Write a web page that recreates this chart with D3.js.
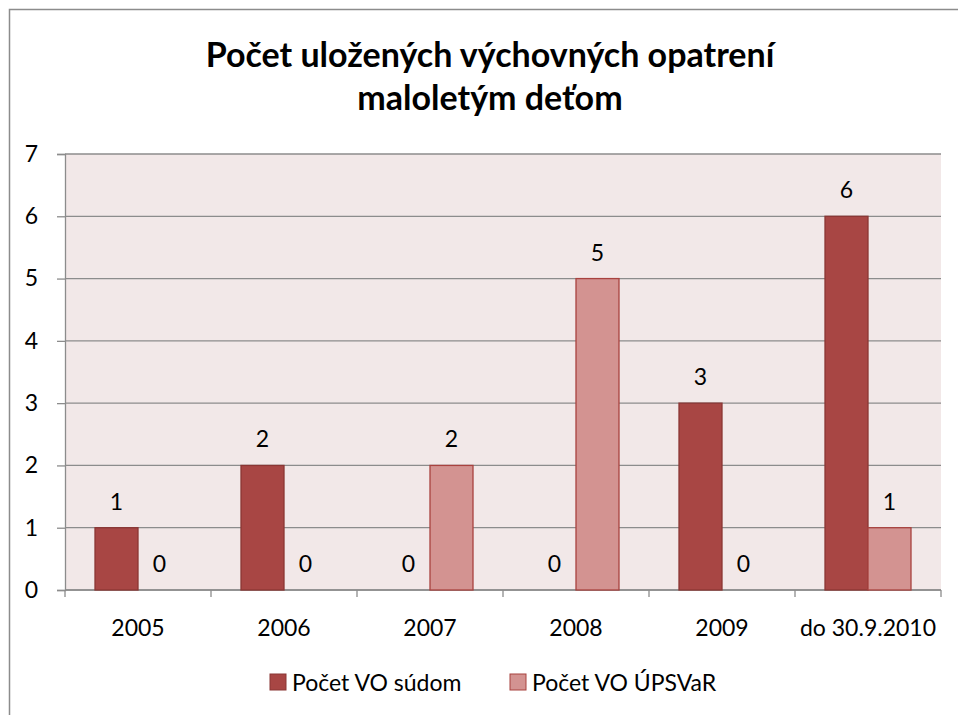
<!DOCTYPE html>
<html>
<head>
<meta charset="utf-8">
<script src="https://cdn.jsdelivr.net/npm/d3@7"></script>
<style>
body{margin:0;background:#fff}
text{font-family:Lato,"Open Sans",sans-serif;fill:#000}
</style>
</head>
<body>
<svg id="graph"></svg>
<script>
//data
var categories = ['2005','2006','2007','2008','2009','do 30.9.2010']
var seriesNames = ['Počet VO súdom','Počet VO ÚPSVaR']
var sudom = [1,2,0,0,3,6]
var upsvar = [0,0,2,5,0,1]
var yTicks = [0,1,2,3,4,5,6,7]
var colors = ['#A84644','#D39391']
var strokes = ['#8A3634','#A8423F']

var svg = d3.select('#graph')
	.attr('width',958)
	.attr('height',715)

//frame
svg.append('rect')
	.attr('x',9.5).attr('y',9.5)
	.attr('width',960).attr('height',720)
	.attr('fill','#fff')
	.attr('stroke','#8c8c8c')
	.attr('stroke-width',1.5)

var margin = {top:154,left:65,right:17,bottom:125}
var width = 958 - margin.left - margin.right
var height = 715 - margin.top - margin.bottom

var x0 = d3.scaleBand().domain(categories).range([0,width]).paddingInner(0.411).paddingOuter(0.2055)
var x1 = d3.scaleBand().domain([0,1]).range([0,x0.bandwidth()])
var y = d3.scaleLinear().domain([0,7]).range([height,0])

var g = svg.append('g')
	.attr('transform','translate('+margin.left+','+margin.top+')')

g.append('rect')
	.attr('width',width).attr('height',height)
	.attr('fill','#F2E8E8')

//gridlines
g.selectAll('.grid')
	.data(yTicks)
	.enter().append('line')
	.attr('x1',0).attr('x2',width)
	.attr('y1',function(d){return y(d)})
	.attr('y2',function(d){return y(d)})
	.attr('stroke','#8c8c8c').attr('stroke-width',1.3)

//y axis
var yaxis = g.append('g')
	.call(d3.axisLeft(y).tickValues(yTicks).tickSize(8).tickPadding(19).tickFormat(d3.format('d')))
yaxis.select('.domain').attr('stroke','#8c8c8c').attr('stroke-width',1.3)
yaxis.selectAll('line').attr('stroke','#8c8c8c').attr('stroke-width',1.3)
yaxis.selectAll('text').style('font-size','23px')

//x axis
var step = x0.step()
var xaxis = g.append('g').attr('transform','translate(0,'+height+')')
xaxis.append('line').attr('x1',0).attr('x2',width).attr('stroke','#8c8c8c').attr('stroke-width',1.3)
xaxis.selectAll('.tk')
	.data(d3.range(categories.length+1))
	.enter().append('line')
	.attr('x1',function(d){return d*step}).attr('x2',function(d){return d*step})
	.attr('y1',0).attr('y2',7)
	.attr('stroke','#8c8c8c').attr('stroke-width',1.3)
xaxis.selectAll('.lbl')
	.data(categories)
	.enter().append('text')
	.attr('x',function(d){return x0(d)+x0.bandwidth()/2})
	.attr('y',46)
	.attr('text-anchor','middle')
	.style('font-size','23px')
	.text(function(d){return d})

//bars
var series = [sudom,upsvar]
series.forEach(function(vals,s){
	var bars = g.selectAll('.bar'+s)
		.data(vals)
		.enter()
	bars.append('rect')
		.attr('x',function(d,i){return x0(categories[i])+x1(s)})
		.attr('width',x1.bandwidth())
		.attr('y',function(d){return y(d)})
		.attr('height',function(d){return height-y(d)})
		.attr('fill',colors[s])
		.attr('stroke',function(d){return d>0?strokes[s]:'none'})
		.attr('stroke-width',1.3)
	bars.append('text')
		.attr('x',function(d,i){return x0(categories[i])+x1(s)+x1.bandwidth()/2})
		.attr('y',function(d){return y(d)-18})
		.attr('text-anchor','middle')
		.style('font-size','23px')
		.text(function(d){return d})
})

//title
var title = svg.append('text')
	.attr('x',490).attr('text-anchor','middle')
	.style('font-size','34px').style('font-weight','bold')
title.append('tspan').attr('x',490).attr('y',67).text('Počet uložených výchovných opatrení')
title.append('tspan').attr('x',490).attr('y',110).text('maloletým deťom')

//legend
var legendX = [270,510]
var legend = svg.selectAll('.leg')
	.data(seriesNames)
	.enter().append('g')
	.attr('transform',function(d,i){return 'translate('+legendX[i]+',674)'})
legend.append('rect')
	.attr('width',16).attr('height',16)
	.attr('fill',function(d,i){return colors[i]})
	.attr('stroke',function(d,i){return strokes[i]})
legend.append('text')
	.attr('x',22).attr('y',17)
	.style('font-size','23px')
	.text(function(d){return d})
</script>
</body>
</html>
